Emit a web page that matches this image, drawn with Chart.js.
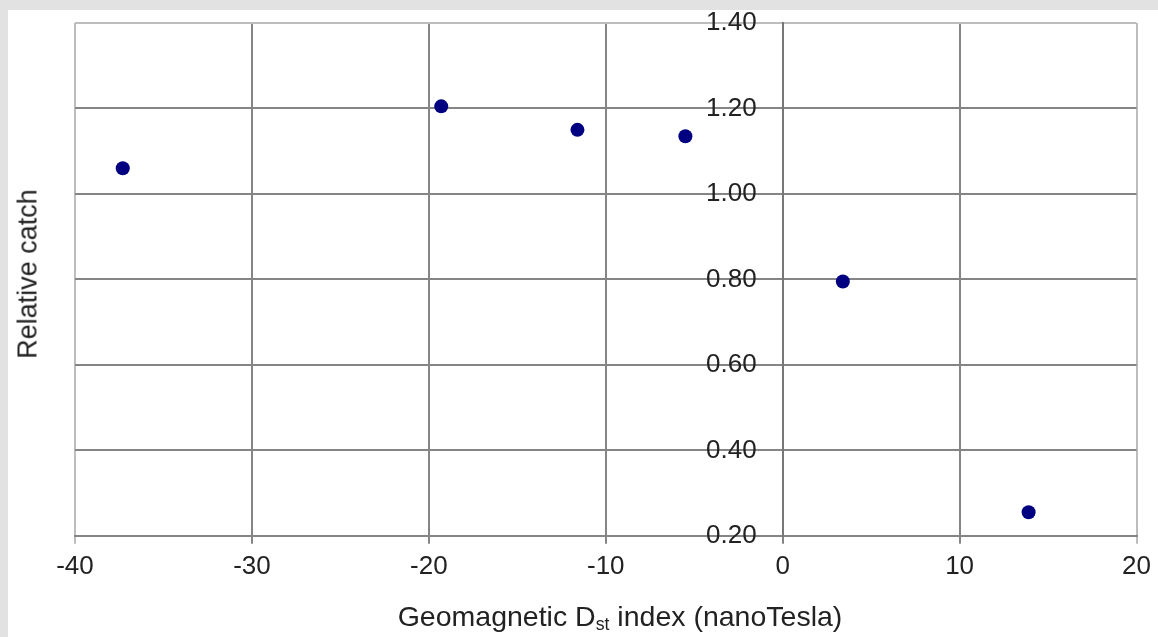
<!DOCTYPE html>
<html lang="en">
<head>
  <meta charset="UTF-8" />
  <title>Relative catch vs Dst index</title>
  <script src="https://cdn.jsdelivr.net/npm/chart.js"></script>
  <style>
    body {
      margin: 0;
      background: #e2e2e2;
      font-family: "Liberation Sans", Arial, sans-serif;
      color: #222;
    }
    .frame {
      position: relative;
      width: 1158px;
      height: 637px;
      overflow: hidden;
    }
    .panel {
      position: absolute;
      left: 8px;
      top: 10px;
      right: 0;
      bottom: 0;
      background: #fff;
    }
    #catchChart {
      position: absolute;
      left: 0;
      top: 0;
    }
    .x-title {
      position: absolute;
      left: 620px;
      top: 602px;
      transform: translateX(-50%);
      font-size: 28.5px;
      line-height: 28px;
      white-space: nowrap;
    }
    .x-title sub {
      font-size: 0.62em;
      vertical-align: -0.25em;
    }
    .y-title {
      position: absolute;
      left: 28px;
      top: 274px;
      transform: translate(-50%, -50%) rotate(-90deg);
      font-size: 27px;
      white-space: nowrap;
    }
  </style>
</head>
<body>
  <div class="frame">
    <div class="panel"></div>
    <canvas id="catchChart" width="1158" height="637"></canvas>
    <div class="y-title">Relative catch</div>
    <div class="x-title">Geomagnetic D<sub>st</sub> index (nanoTesla)</div>
  </div>

  <script>
  // Dst index (nT) and relative catch for each storm class
  const dstIndex = [-37.3, -19.3, -11.6, -5.5, 3.4, 13.9];
  const relativeCatch = [1.06, 1.205, 1.15, 1.135, 0.795, 0.255];

  const xMin = -40, xMax = 20, xStep = 10;
  const yMin = 0.2, yMax = 1.4, yStep = 0.2;

  const gridDark = '#858585';
  const gridLight = '#bdbdbd';

  const points = dstIndex.map((x, i) => ({ x: x, y: relativeCatch[i] }));

  const ctx = document.getElementById('catchChart').getContext('2d');
  new Chart(ctx, {
    type: 'scatter',
    data: {
      datasets: [{
        data: points,
        backgroundColor: '#000080',
        borderColor: '#000080',
        borderWidth: 0,
        pointRadius: 7,
        pointHoverRadius: 7
      }]
    },
    options: {
      responsive: false,
      animation: false,
      layout: {
        padding: { left: 75, right: 18, top: 23, bottom: 48 }
      },
      plugins: {
        legend: { display: false },
        tooltip: { enabled: false }
      },
      scales: {
        x: {
          type: 'linear',
          position: 'bottom',
          min: xMin,
          max: xMax,
          ticks: {
            stepSize: xStep,
            padding: 7,
            color: '#222',
            font: { family: 'Liberation Sans', size: 26 }
          },
          grid: {
            lineWidth: 2,
            tickLength: 8,
            color: c => (c.tick && (c.tick.value === xMin || c.tick.value === xMax)) ? gridLight : gridDark
          },
          border: { display: true, color: gridDark, width: 2 }
        },
        y: {
          type: 'linear',
          position: { x: 0 },
          min: yMin,
          max: yMax,
          ticks: {
            stepSize: yStep,
            color: '#222',
            font: { family: 'Liberation Sans', size: 26 },
            // labels sit right-aligned on the zero line, so pad them off it
            callback: v => v.toFixed(2) + '\u2002\u2002'
          },
          grid: {
            lineWidth: 2,
            tickLength: 8,
            color: c => (c.tick && Math.abs(c.tick.value - yMax) < 1e-6) ? gridLight : gridDark
          },
          border: { display: true, color: '#777', width: 2 }
        }
      }
    }
  });
  </script>
</body>
</html>
